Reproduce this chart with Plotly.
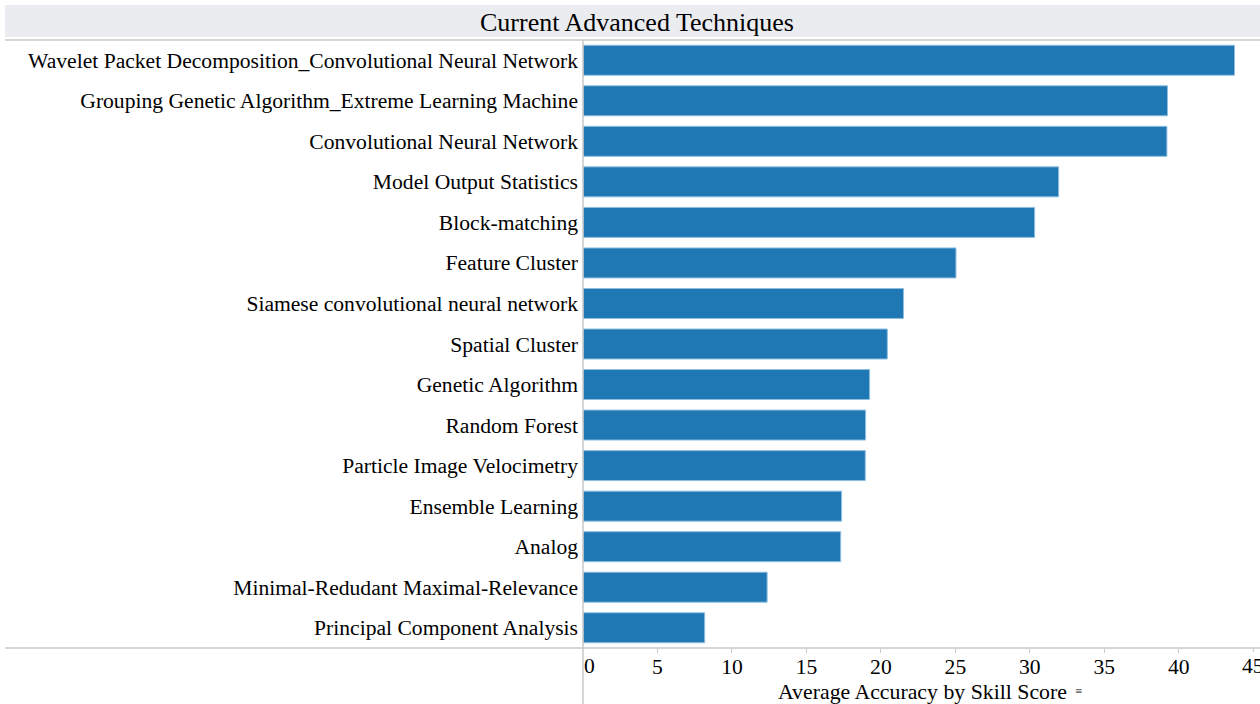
import plotly.graph_objects as go

techniques = [
    "Wavelet Packet Decomposition_Convolutional Neural Network",
    "Grouping Genetic Algorithm_Extreme Learning Machine",
    "Convolutional Neural Network",
    "Model Output Statistics",
    "Block-matching",
    "Feature Cluster",
    "Siamese convolutional neural network",
    "Spatial Cluster",
    "Genetic Algorithm",
    "Random Forest",
    "Particle Image Velocimetry",
    "Ensemble Learning",
    "Analog",
    "Minimal-Redudant Maximal-Relevance",
    "Principal Component Analysis",
]
accuracy = [43.74, 39.24, 39.2, 31.93, 30.32, 25.04, 21.52, 20.43, 19.24, 18.97, 18.95, 17.36, 17.30, 12.36, 8.17]
tick_values = [0, 5, 10, 15, 20, 25, 30, 35, 40, 45]
tick_labels = ["0", "5", "10", "15", "20", "25", "30", "35", "40", "45"]

W, H = 1260, 704
x0_px, y_top_px, y_bot_px = 583, 40, 648
FONT = "Liberation Serif, Times New Roman, serif"
LINE = "#c8c8c8"
LABEL_SIZE = 21.6

fig = go.Figure(go.Bar(
    x=accuracy, y=techniques, orientation="h",
    marker=dict(color="#1f77b4", line=dict(color="#8fbfe0", width=1)),
    hoverinfo="x+y",
))

label_y = (H - 666) / H

fig.update_layout(
    width=W, height=H,
    margin=dict(l=0, r=0, t=0, b=0),
    paper_bgcolor="white", plot_bgcolor="white",
    showlegend=False,
    bargap=0.26,
    font=dict(family=FONT, color="#000000", size=LABEL_SIZE),
    xaxis=dict(
        domain=[x0_px / W, 1],
        range=[0, 45.45],
        tickvals=tick_values[1:-1], ticktext=tick_labels[1:-1],
        ticks="outside", ticklen=4, tickcolor=LINE,
        ticklabelstandoff=-5,
        showgrid=False, zeroline=False, showline=False,
        tickfont=dict(size=LABEL_SIZE, family=FONT),
        automargin=False,
    ),
    yaxis=dict(
        domain=[(H - y_bot_px) / H, (H - y_top_px) / H],
        autorange="reversed",
        showgrid=False, zeroline=False, showline=False,
        ticks="", ticklabelstandoff=4,
        tickfont=dict(size=LABEL_SIZE, family=FONT),
        automargin=False,
    ),
    shapes=[
        dict(type="rect", xref="paper", yref="paper",
             x0=5 / W, x1=1, y0=(H - 37) / H, y1=(H - 5) / H,
             fillcolor="#ebecf0", line=dict(width=0), layer="below"),
        dict(type="line", xref="paper", yref="paper",
             x0=5 / W, x1=1, y0=(H - y_top_px) / H, y1=(H - y_top_px) / H,
             line=dict(color=LINE, width=1.5)),
        dict(type="line", xref="paper", yref="paper",
             x0=5 / W, x1=1, y0=(H - y_bot_px) / H, y1=(H - y_bot_px) / H,
             line=dict(color=LINE, width=1.5)),
        dict(type="line", xref="paper", yref="paper",
             x0=x0_px / W, x1=x0_px / W, y0=0, y1=(H - y_top_px) / H,
             line=dict(color=LINE, width=1.5)),
        dict(type="line", xref="x", yref="paper",
             x0=tick_values[-1], x1=tick_values[-1],
             y0=(H - y_bot_px) / H, y1=(H - y_bot_px - 4) / H,
             line=dict(color=LINE, width=1)),
    ],
    annotations=[
        dict(text="Current Advanced Techniques", xref="paper", yref="paper",
             x=637 / W, y=(H - 22) / H, xanchor="center", yanchor="middle",
             showarrow=False, font=dict(size=26, family=FONT, color="#000000")),
        dict(text="Average Accuracy by Skill Score", xref="paper", yref="paper",
             x=1069 / W, y=(H - 692) / H, xanchor="right", yanchor="middle",
             showarrow=False, font=dict(size=21.8, family=FONT, color="#000000")),
        dict(text="\u2261", xref="paper", yref="paper",
             x=1073 / W, y=(H - 691) / H, xanchor="left", yanchor="middle",
             showarrow=False, font=dict(size=9, family="DejaVu Sans", color="#555555")),
        dict(text=tick_labels[0], xref="x", yref="paper",
             x=tick_values[0], y=label_y, xanchor="left", yanchor="middle",
             xshift=-1, showarrow=False,
             font=dict(size=LABEL_SIZE, family=FONT, color="#000000")),
        dict(text=tick_labels[-1], xref="x", yref="paper",
             x=tick_values[-1], y=label_y, xanchor="center", yanchor="middle",
             showarrow=False,
             font=dict(size=LABEL_SIZE, family=FONT, color="#000000")),
    ],
)

fig.write_html("out.html")
